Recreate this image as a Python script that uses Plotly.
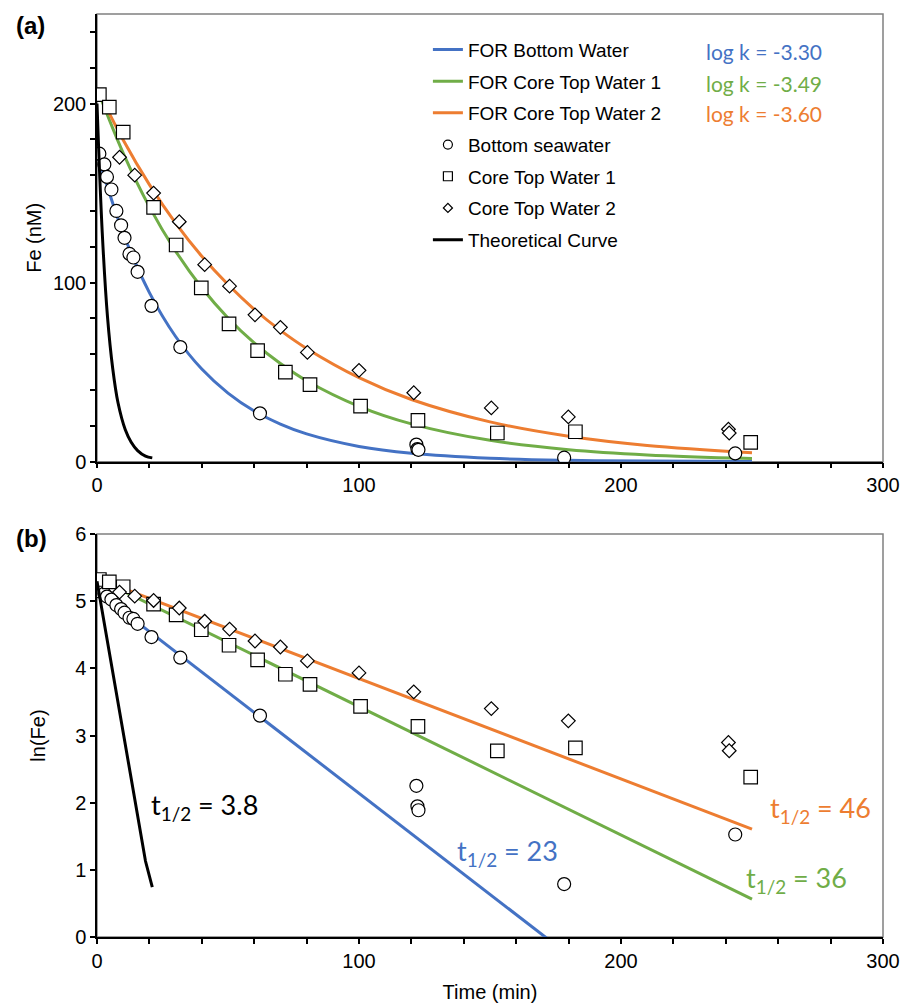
import numpy as np
import plotly.graph_objects as go

# ---------------- data ----------------
# Bottom seawater (circles)
t_bsw = [0.9, 2.8, 3.8, 5.5, 7.4, 9.2, 10.5, 12.4, 13.9, 15.5, 20.8, 31.8, 62.2,
         121.9, 122.3, 122.7, 178.3, 243.6]
fe_bsw = [172, 166, 159, 152, 140, 132, 125, 116, 114, 106, 87, 64, 27,
          9.5, 7.0, 6.6, 2.2, 4.6]

# Core Top Water 1 (squares)
t_ctw1 = [0.9, 4.7, 10.0, 21.6, 30.2, 39.8, 50.4, 61.3, 71.9, 81.3, 100.6, 122.5,
          152.8, 182.6, 249.5]
fe_ctw1 = [205, 198, 184, 142, 121, 97, 77, 62, 50, 43, 31, 23, 16, 16.7, 10.8]

# Core Top Water 2 (diamonds)
t_ctw2 = [8.6, 14.4, 21.6, 31.4, 41.1, 50.6, 60.3, 70.0, 80.3, 100.0, 120.9,
          150.5, 179.9, 241.0, 241.3]
fe_ctw2 = [170, 160, 150, 134, 110, 98, 82, 75, 61, 51, 38.5, 30, 25, 18.1, 16.0]

# Fitted first-order-rate (FOR) curves
t_fit = [0, 10, 20, 30, 40, 50, 60, 70, 80, 100, 120, 150, 180, 210, 250]
fe_for_bw = [172.4, 127.6, 94.4, 69.9, 51.7, 38.3, 28.3, 21.0, 15.5, 8.5, 4.66,
             1.89, 0.77, 0.31, 0.093]
fe_for_ctw1 = [208.5, 172.3, 142.3, 117.6, 97.1, 80.2, 66.3, 54.8, 45.2, 30.9,
               21.1, 11.9, 6.70, 3.78, 1.76]
fe_for_ctw2 = [208.5, 179.6, 154.7, 133.2, 114.7, 98.9, 85.1, 73.3, 63.2, 46.9,
               34.7, 22.2, 14.2, 9.07, 4.99]

# Theoretical curve
t_theo = [0, 2, 4, 6, 8, 10.8, 13, 15.5, 18.5, 21.1]
fe_theo = [200, 128, 81, 52, 33, 17.8, 11.0, 6.2, 3.1, 2.1]

legend_names = ["FOR Bottom Water", "FOR Core Top Water 1", "FOR Core Top Water 2",
                "Bottom seawater", "Core Top Water 1", "Core Top Water 2",
                "Theoretical Curve"]
logk_labels = ["log k = -3.30", "log k = -3.49", "log k = -3.60"]
half_lives = ["3.8", "23", "36", "46"]

# ---------------- styles ----------------
BLUE = "#4472C4"
GREEN = "#70AD47"
ORANGE = "#ED7D31"
BLACK = "#000000"
SANS = "Liberation Sans, Arial, sans-serif"
CAL = "Lato, Carlito, Calibri, sans-serif"

fig = go.Figure()

# legend-only entries
leg_styles = [
    dict(mode="lines", line=dict(color=BLUE, width=3)),
    dict(mode="lines", line=dict(color=GREEN, width=3)),
    dict(mode="lines", line=dict(color=ORANGE, width=3)),
    dict(mode="markers", marker=dict(symbol="circle", size=9, color="white",
                                     line=dict(color="black", width=1.2))),
    dict(mode="markers", marker=dict(symbol="square", size=9, color="white",
                                     line=dict(color="black", width=1.2))),
    dict(mode="markers", marker=dict(symbol="diamond", size=7, color="white",
                                     line=dict(color="black", width=1.2))),
    dict(mode="lines", line=dict(color=BLACK, width=3)),
]
for i, (nm, st) in enumerate(zip(legend_names, leg_styles)):
    fig.add_trace(go.Scatter(x=[None], y=[None], name=nm, legendgroup=f"g{i}",
                             showlegend=True, xaxis="x", yaxis="y", **st))

def add_panel(xa, ya, transform, line_shape):
    f = transform
    for fe, col in [(fe_for_bw, BLUE), (fe_for_ctw1, GREEN), (fe_for_ctw2, ORANGE)]:
        fig.add_trace(go.Scatter(x=t_fit, y=f(fe), mode="lines",
                                 line=dict(color=col, width=3, shape=line_shape),
                                 showlegend=False, xaxis=xa, yaxis=ya,
                                 hoverinfo="skip"))
    mk = dict(color="white", line=dict(color="black", width=1.2))
    fig.add_trace(go.Scatter(x=t_bsw, y=f(fe_bsw), mode="markers",
                             marker=dict(symbol="circle", size=13, **mk),
                             showlegend=False, xaxis=xa, yaxis=ya))
    fig.add_trace(go.Scatter(x=t_ctw1, y=f(fe_ctw1), mode="markers",
                             marker=dict(symbol="square", size=13.5, **mk),
                             showlegend=False, xaxis=xa, yaxis=ya))
    fig.add_trace(go.Scatter(x=t_ctw2, y=f(fe_ctw2), mode="markers",
                             marker=dict(symbol="diamond", size=10.5, **mk),
                             showlegend=False, xaxis=xa, yaxis=ya))
    fig.add_trace(go.Scatter(x=t_theo, y=f(fe_theo), mode="lines",
                             line=dict(color=BLACK, width=3, shape=line_shape),
                             showlegend=False, xaxis=xa, yaxis=ya))

add_panel("x", "y", lambda a: list(a), "spline")
add_panel("x2", "y2", lambda a: list(np.log(np.array(a, dtype=float))), "linear")

axis_common = dict(showline=True, linecolor="black", linewidth=1.5,
                   ticks="outside", ticklen=5, tickwidth=1.5, tickcolor="black",
                   showgrid=False, zeroline=False, automargin=False,
                   tickfont=dict(family=SANS, size=20, color="black"))
minor_ticks = dict(dtick=20, ticks="outside", ticklen=5, tickwidth=1.5,
                   tickcolor="black")

fig.update_layout(
    width=914, height=1008,
    margin=dict(l=97, r=31, t=14, b=71, autoexpand=False),
    paper_bgcolor="white", plot_bgcolor="white",
    xaxis=dict(domain=[0, 1], anchor="y", range=[0, 300], dtick=100,
               minor=minor_ticks, **axis_common),
    yaxis=dict(domain=[0.515, 1], anchor="x", range=[0, 250], dtick=100,
               minor=minor_ticks,
               title=dict(text="Fe (nM)", font=dict(family=SANS, size=20, color="black"),
                          standoff=6), **axis_common),
    xaxis2=dict(domain=[0, 1], anchor="y2", range=[0, 300], dtick=100,
                minor=minor_ticks,
                title=dict(text="Time (min)", font=dict(family=SANS, size=20, color="black"),
                           standoff=14), **axis_common),
    yaxis2=dict(domain=[0, 0.4366], anchor="x2", range=[0, 6], dtick=1,
                title=dict(text="ln(Fe)", font=dict(family=SANS, size=20, color="black"),
                           standoff=24), **axis_common),
    legend=dict(x=0.421, y=0.982, xanchor="left", yanchor="top",
                font=dict(family=SANS, size=19, color="black"),
                bgcolor="rgba(0,0,0,0)", tracegroupgap=4, traceorder="grouped"),
    showlegend=True,
)

# gray frame on top/right
for xr, yr in [("x domain", "y domain"), ("x2 domain", "y2 domain")]:
    fig.add_shape(type="rect", xref=xr, yref=yr, x0=0, x1=1, y0=0, y1=1,
                  line=dict(color="#808080", width=1.5), layer="below")

# log k labels
for lbl, col, yp in zip(logk_labels, [BLUE, GREEN, ORANGE], [0.959, 0.925, 0.892]):
    fig.add_annotation(text=lbl, xref="paper", yref="paper", x=0.772, y=yp,
                       xanchor="left", yanchor="middle", showarrow=False,
                       font=dict(family=CAL, size=21, color=col))

# half-life labels
for hl, col, xv, yv in zip(half_lives, [BLACK, BLUE, GREEN, ORANGE],
                           [20.0, 136.5, 247.0, 256.0], [1.95, 1.26, 0.86, 1.90]):
    fig.add_annotation(text=f"t<sub>1/2</sub> = {hl}", xref="x2", yref="y2",
                       x=xv, y=yv, xanchor="left", yanchor="middle", showarrow=False,
                       font=dict(family=CAL, size=27, color=col))

# panel labels
for lbl, yp in [("<b>(a)</b>", 0.988), ("<b>(b)</b>", 0.432)]:
    fig.add_annotation(text=lbl, xref="paper", yref="paper", x=-0.106, y=yp,
                       xanchor="left", yanchor="middle", showarrow=False,
                       font=dict(family=SANS, size=24, color="black"))

fig.write_html("out.html", config={"displayModeBar": False},
               post_script="document.body.style.margin='0';")
